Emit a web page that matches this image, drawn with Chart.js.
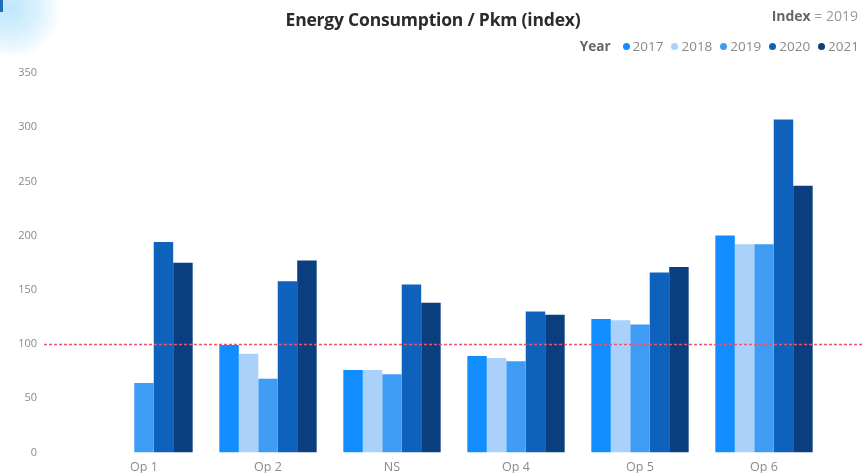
<!DOCTYPE html>
<html>
<head>
<meta charset="utf-8">
<script src="https://cdn.jsdelivr.net/npm/chart.js@4"></script>
<style>
  body { margin: 0; background: #fff; font-family: "Open Sans", sans-serif; }
  #wrap { position: relative; width: 862px; height: 473px; overflow: hidden; }
  #blob { position: absolute; left: -28px; top: -30px; width: 95px; height: 85px;
          background: radial-gradient(circle at 40% 45%, #bfe6fb 0%, #d8f0fc 35%, rgba(255,255,255,0) 70%); }
  #edge { position: absolute; left: 0; top: 0; width: 3px; height: 12px; background: #1f6fb8; }
  #title { position: absolute; left: 0; width: 866px; top: 7px; text-align: center;
           font-weight: 700; font-size: 17.5px; color: #2b2b2b; letter-spacing: -0.2px; }
  #index { position: absolute; right: 4px; top: 6px; font-size: 14px; color: #9a9a9a; }
  #index b { color: #666; }
  #legend { position: absolute; right: 3px; top: 37px; font-size: 13.5px; color: #8a8a8a; white-space: nowrap; }
  #legend b { color: #666; margin-right: 4px; }
  #legend span.dot { display: inline-block; width: 7px; height: 7px; border-radius: 50%; margin: 0 3px 0 8px; vertical-align: 1px; }
  canvas { position: absolute; left: 0; top: 0; }
</style>
</head>
<body>
<div id="wrap">
  <div id="blob"></div>
  <div id="edge"></div>
  <canvas id="myChart" width="862" height="496"></canvas>
  <div id="title">Energy Consumption / Pkm (index)</div>
  <div id="index"><b>Index</b> = 2019</div>
  <div id="legend"></div>
</div>
<script>
// categories and values
const operators = ['Op 1', 'Op 2', 'NS', 'Op 4', 'Op 5', 'Op 6'];
const years = ['2017', '2018', '2019', '2020', '2021'];
const yearColors = ['#118DFF', '#A9D1FA', '#3F9CF5', '#0F62BC', '#0A3E7E'];

const v2017 = [null, 99, 76, 89, 123, 200];
const v2018 = [null, 91, 76, 87, 122, 192];
const v2019 = [64, 68, 72, 84, 118, 192];
const v2020 = [194, 158, 155, 130, 166, 307];
const v2021 = [175, 177, 138, 127, 171, 246];

const yTicks = [0, 50, 100, 150, 200, 250, 300, 350];
const indexLine = 100;

// legend row
const legend = document.getElementById('legend');
legend.innerHTML = '<b>Year</b>' + years.map((y, i) =>
  '<span class="dot" style="background:' + yearColors[i] + '"></span>' + y).join('');

// dotted red line at index 100, running across the whole width
const indexPlugin = {
  id: 'indexLine',
  afterDatasetsDraw(chart) {
    const ctx = chart.ctx;
    const y = Math.round(chart.scales.y.getPixelForValue(indexLine)) + 0.5;
    ctx.save();
    ctx.strokeStyle = '#f4506e';
    ctx.lineWidth = 1.5;
    ctx.setLineDash([3, 2]);
    ctx.beginPath();
    ctx.moveTo(44, y);
    ctx.lineTo(chart.width, y);
    ctx.stroke();
    ctx.restore();
  }
};

const allValues = [v2017, v2018, v2019, v2020, v2021];

new Chart(document.getElementById('myChart'), {
  type: 'bar',
  data: {
    labels: operators,
    datasets: years.map((y, i) => ({
      label: y,
      data: allValues[i],
      backgroundColor: yearColors[i],
      borderWidth: 0,
      categoryPercentage: 0.785,
      barPercentage: 1.0
    }))
  },
  plugins: [indexPlugin],
  options: {
    responsive: false,
    animation: false,
    layout: { padding: { top: 73, left: 0, right: 36, bottom: 0 } },
    plugins: {
      legend: { display: false },
      tooltip: { enabled: false }
    },
    scales: {
      x: {
        grid: { display: false },
        border: { display: false },
        ticks: { color: '#8a8a8a', font: { family: 'Open Sans', size: 12.5 }, padding: 0, maxRotation: 0 }
      },
      y: {
        min: 0,
        max: 350,
        afterBuildTicks: axis => { axis.ticks = yTicks.map(v => ({ value: v })); },
        afterFit: axis => { axis.width = 82; },
        grid: { display: false },
        border: { display: false },
        ticks: { color: '#8a8a8a', font: { family: 'Open Sans', size: 11 }, padding: 37 }
      }
    }
  }
});
</script>
</body>
</html>
